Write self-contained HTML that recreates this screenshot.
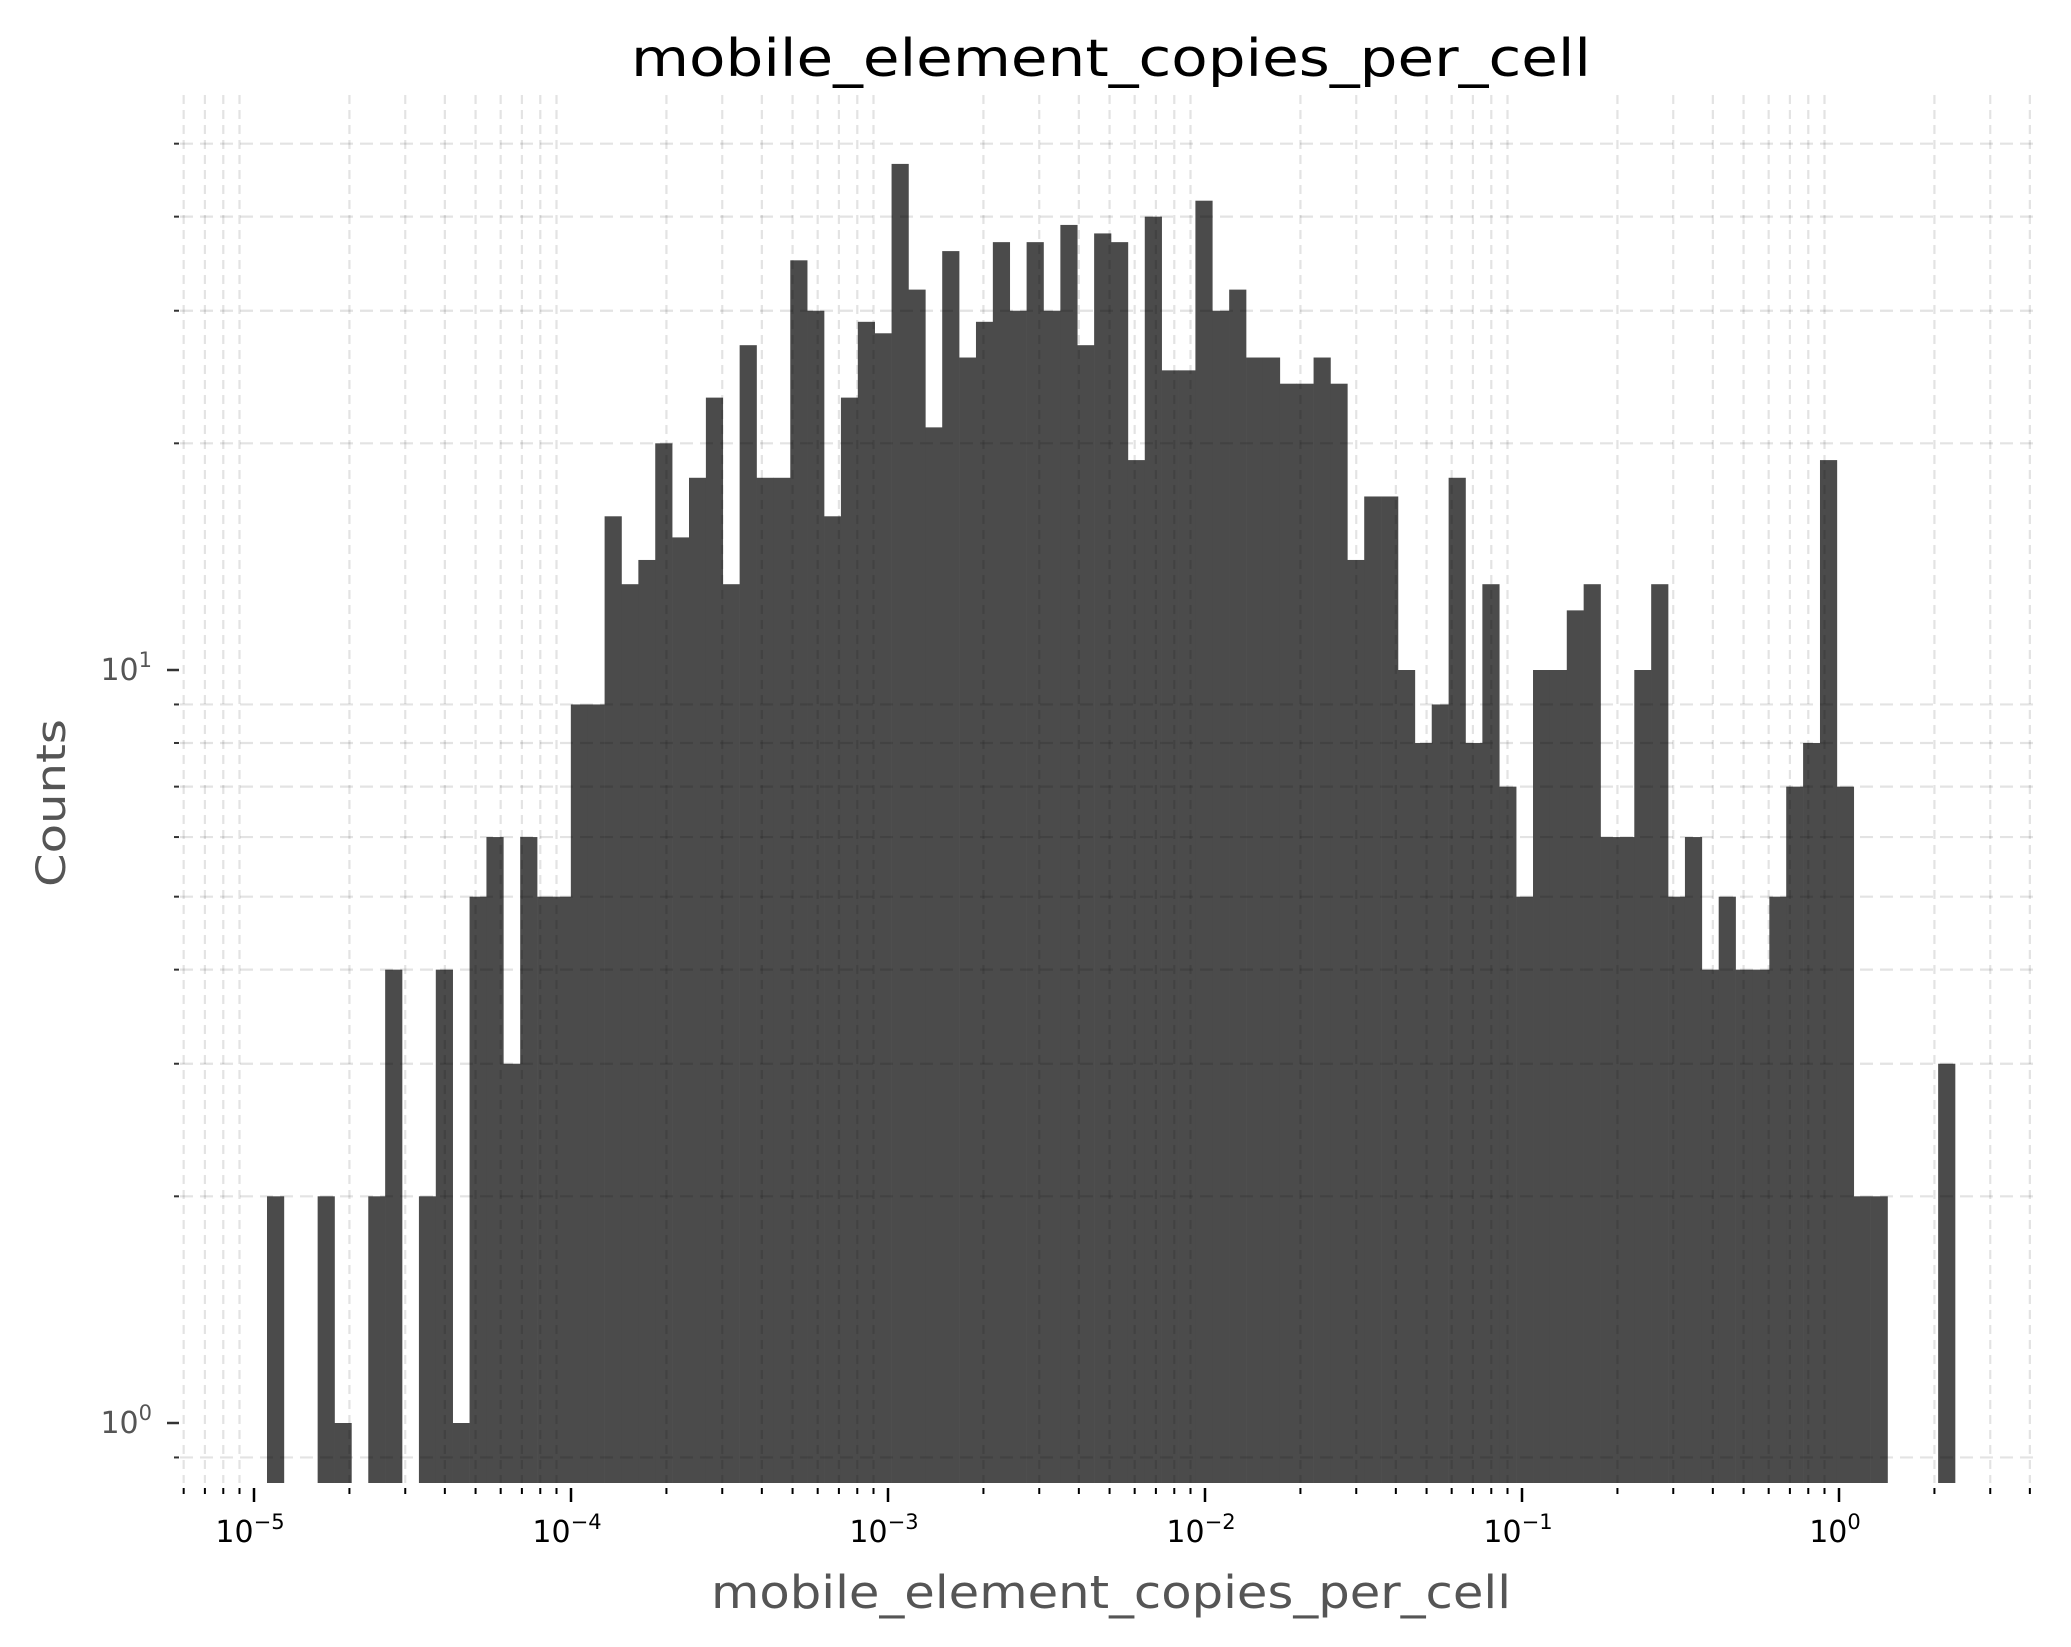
<!DOCTYPE html>
<html><head><meta charset="utf-8"><style>
html,body{margin:0;padding:0;background:#fff;}
svg{display:block;font-family:"DejaVu Sans","Liberation Sans",sans-serif;}
</style></head><body>
<svg id="chart" width="2071" height="1647" viewBox="0 0 2071 1647" xmlns="http://www.w3.org/2000/svg">
<rect x="0" y="0" width="2071" height="1647" fill="#fff"/>
<g id="bars"></g>
<g id="grid"></g>
<g id="axes"></g>
<text x="1111" y="76" font-size="52" text-anchor="middle" fill="#000" textLength="960" lengthAdjust="spacingAndGlyphs">mobile_element_copies_per_cell</text>
<text x="1111" y="1608" font-size="45" text-anchor="middle" fill="#555" textLength="800" lengthAdjust="spacingAndGlyphs">mobile_element_copies_per_cell</text>
<text x="0" y="0" font-size="40" text-anchor="middle" fill="#555" transform="translate(65,803) rotate(-90)" textLength="168" lengthAdjust="spacingAndGlyphs">Counts</text>
</svg>
<script>
// data
const binLogStart = -4.959;
const binLogWidth = 0.05325;
const counts = [2,0,0,2,1,0,2,4,0,2,4,1,5,6,3,6,5,5,
9,9,16,13,14,20,15,18,23,13,27,18,18,35,30,16,23,
29,28,47,32,21,36,26,29,37,30,37,30,39,27,38,37,19,40,
25,25,42,30,32,26,26,24,24,26,24,14,17,17,10,8,9,
18,8,13,7,5,10,10,12,13,6,6,10,13,5,6,4,
5,4,4,5,7,8,19,7,2,2,0,0,0,3];
const xTickExps = [-5,-4,-3,-2,-1,0];
const xTickLabels = ["\u22125","\u22124","\u22123","\u22122","\u22121","0"];
const yTickExps = [0,1];
const yTickLabels = ["0","1"];

const NS = "http://www.w3.org/2000/svg";
const PL = 180, PR = 2038, PT = 95, PB = 1483;
const X0 = 254, XD = 317;
const Y0 = 1423, YD = 753;
function xs(lv){ return X0 + (lv + 5) * XD; }
function ys(c){ return Y0 - Math.log10(c) * YD; }
function mk(tag, attrs, parent){
  const e = document.createElementNS(NS, tag);
  for (const k in attrs) e.setAttribute(k, attrs[k]);
  parent.appendChild(e); return e;
}
const gBars = document.getElementById('bars');
const gGrid = document.getElementById('grid');
const gAxes = document.getElementById('axes');

counts.forEach((c, i) => {
  if (c <= 0) return;
  const l = binLogStart + i * binLogWidth;
  const x1 = xs(l), x2 = xs(l + binLogWidth);
  const r = mk('rect', {x: x1, y: ys(c), width: x2 - x1 + 0.3, height: PB - ys(c), fill: '#4b4b4b'}, gBars);
  
  
});

const xMinor = [];
for (let e = -6; e <= 0; e++) for (let m = 2; m <= 9; m++) {
  const lv = e + Math.log10(m);
  const px = xs(lv);
  if (px > PL && px < PR) xMinor.push(px);
}
const yMinor = [];
[0.9,2,3,4,5,6,7,8,9,20,30,40,50].forEach(v => yMinor.push(ys(v)));

xMinor.forEach(px => {
  const l = mk('line', {x1: px, x2: px, y1: PT, y2: PB, stroke: 'rgba(0,0,0,0.11)', 'stroke-width': 2.2, 'stroke-dasharray': '9 6'}, gGrid);
  
  
  const t = mk('line', {x1: px, x2: px, y1: 1488, y2: 1494, stroke: '#000', 'stroke-width': 2}, gAxes);
  
  
});
yMinor.forEach(py => {
  const l = mk('line', {x1: PL, x2: PR, y1: py, y2: py, stroke: 'rgba(0,0,0,0.11)', 'stroke-width': 2.2, 'stroke-dasharray': '13 7'}, gGrid);
  
  
  const t = mk('line', {x1: 174, x2: 179, y1: py, y2: py, stroke: '#333', 'stroke-width': 2}, gAxes);
  
  
});

xTickExps.forEach((e, i) => {
  const px = xs(e);
  const t = mk('line', {x1: px, x2: px, y1: 1488, y2: 1502, stroke: '#000', 'stroke-width': 2.5}, gAxes);
  
  
  const tx = mk('text', {x: px - 4, y: 1542, 'font-size': 30, 'text-anchor': 'middle', fill: '#000'}, gAxes);
  
  
  tx.appendChild(document.createTextNode('10'));
  const sp = document.createElementNS(NS, 'tspan');
  sp.setAttribute('font-size', 21); sp.setAttribute('dy', -13);
  sp.textContent = xTickLabels[i];
  tx.appendChild(sp);
});
yTickExps.forEach((e, i) => {
  const py = ys(Math.pow(10, e));
  const t = mk('line', {x1: 167, x2: 179, y1: py, y2: py, stroke: '#333', 'stroke-width': 2.5}, gAxes);
  
  
  const tx = mk('text', {x: 152, y: py + 10, 'font-size': 30, 'text-anchor': 'end', fill: '#555'}, gAxes);
  
  
  tx.appendChild(document.createTextNode('10'));
  const sp = document.createElementNS(NS, 'tspan');
  sp.setAttribute('font-size', 21); sp.setAttribute('dy', -13);
  sp.textContent = yTickLabels[i];
  tx.appendChild(sp);
});
</script>
</body></html>
